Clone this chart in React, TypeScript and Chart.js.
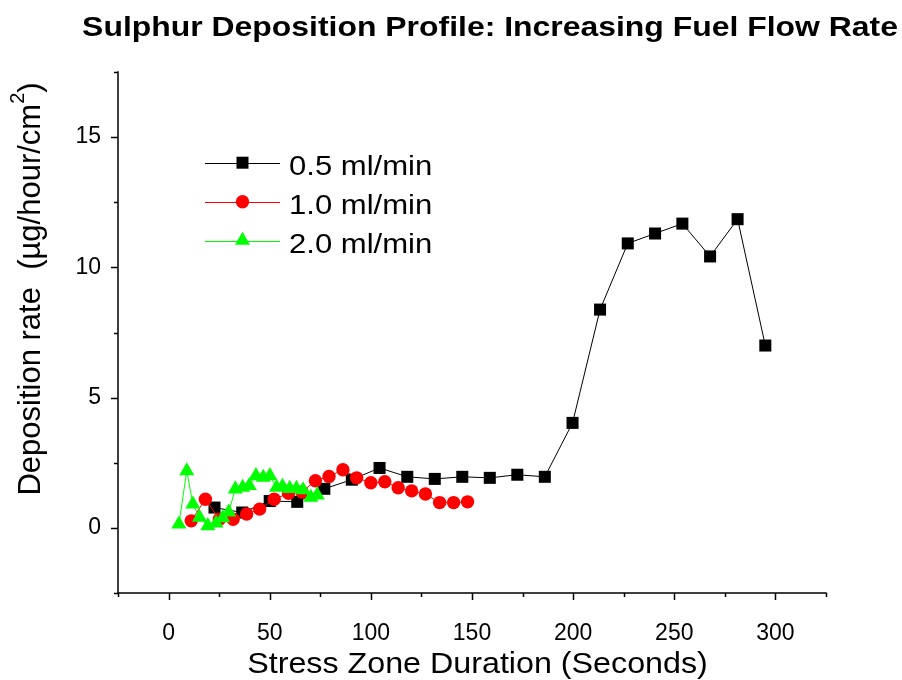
import React, { useEffect, useRef } from 'react';
import { Chart, registerables } from 'chart.js';

Chart.register(...registerables);

// ---- data ----
const seriesLabels = ['0.5 ml/min', '1.0 ml/min', '2.0 ml/min'];
const seriesColors = ['#000000', '#ff0000', '#00ff00'];

const blackX = [22.7, 36.4, 50, 63.6, 77, 90.6, 104.3, 118, 131.6, 145.2, 158.8, 172.4, 186, 199.7, 213.3, 227, 240.5, 254, 267.7, 281.3, 295];
const blackY = [0.78, 0.59, 1.03, 1.0, 1.5, 1.85, 2.3, 1.96, 1.88, 1.96, 1.92, 2.04, 1.96, 4.03, 8.38, 10.92, 11.3, 11.68, 10.42, 11.85, 7.0];

const redX = [11.2, 18.2, 25.1, 31.9, 38.6, 45.0, 52.2, 59.3, 66.0, 72.6, 79.3, 86.2, 93.0, 100.0, 106.9, 113.5, 120.2, 127.0, 134.0, 140.9, 147.8];
const redY = [0.27, 1.1, 0.33, 0.33, 0.53, 0.72, 1.1, 1.33, 1.38, 1.81, 1.97, 2.23, 1.92, 1.73, 1.77, 1.54, 1.42, 1.3, 0.97, 0.97, 1.0];

const greenX = [5.1, 9.0, 12.0, 15.3, 19.4, 23.5, 26.8, 29.7, 33.0, 36.6, 39.9, 43.2, 46.8, 50.1, 53.4, 56.3, 59.9, 63.2, 66.5, 70.3, 73.5];
const greenY = [0.14, 2.19, 0.91, 0.4, 0.08, 0.18, 0.38, 0.6, 1.49, 1.55, 1.62, 2.0, 1.94, 2.0, 1.55, 1.59, 1.51, 1.51, 1.46, 1.17, 1.26];

const xMin = -25;
const xMax = 325;
const xStep = 25;
const xLabelStep = 50;
const yMin = -2.5;
const yMax = 17.5;
const yStep = 2.5;
const yLabelStep = 5;

const titleText = 'Sulphur Deposition Profile: Increasing Fuel Flow Rate';
const xAxisTitle = 'Stress Zone Duration (Seconds)';
const yAxisTitleMain = 'Deposition rate  (\u00b5g/hour/cm';
const yAxisTitleSup = '2';
const yAxisTitleEnd = ')';

const FONT = "'Liberation Sans', Arial, Helvetica, sans-serif";

function drawMarker(ctx: CanvasRenderingContext2D, style: string, x: number, y: number, color: string) {
  ctx.save();
  ctx.fillStyle = color;
  ctx.beginPath();
  if (style === 'rect') {
    const s = 6;
    ctx.rect(x - s, y - s, 2 * s, 2 * s);
  } else if (style === 'circle') {
    ctx.arc(x, y, 6.7, 0, Math.PI * 2);
  } else {
    const r = 8.7;
    ctx.moveTo(x, y - r);
    ctx.lineTo(x + r * Math.sin((2 * Math.PI) / 3), y - r * Math.cos((2 * Math.PI) / 3));
    ctx.lineTo(x + r * Math.sin((4 * Math.PI) / 3), y - r * Math.cos((4 * Math.PI) / 3));
    ctx.closePath();
  }
  ctx.fill();
  ctx.restore();
}

function drawScaledText(ctx: CanvasRenderingContext2D, text: string, x: number, y: number, font: string, sx: number, align: CanvasTextAlign) {
  ctx.save();
  ctx.font = font;
  ctx.fillStyle = '#000';
  ctx.textAlign = align;
  ctx.textBaseline = 'alphabetic';
  ctx.translate(x, y);
  ctx.scale(sx, 1);
  ctx.fillText(text, 0, 0);
  ctx.restore();
}

const decorPlugin = {
  id: 'decor',
  afterDraw(chart: any) {
    const ctx: CanvasRenderingContext2D = chart.ctx;
    const xs = chart.scales.x;
    const ys = chart.scales.y;
    const ca = chart.chartArea;
    ctx.save();
    ctx.strokeStyle = '#000';
    ctx.lineWidth = 1.5;
    ctx.lineCap = 'square';
    ctx.beginPath();
    ctx.moveTo(ca.left, ca.top);
    ctx.lineTo(ca.left, ca.bottom);
    ctx.lineTo(ca.right, ca.bottom);
    ctx.stroke();
    ctx.lineCap = 'butt';
    for (let v = xMin; v <= xMax + 1e-9; v += xStep) {
      const px = Math.round(xs.getPixelForValue(v)) + 0.5;
      const len = Math.abs(v % xLabelStep) < 1e-9 ? 7 : 4;
      ctx.beginPath();
      ctx.moveTo(px, ca.bottom);
      ctx.lineTo(px, ca.bottom + len);
      ctx.stroke();
    }
    for (let v = yMin; v <= yMax + 1e-9; v += yStep) {
      const py = Math.round(ys.getPixelForValue(v)) + 0.5;
      const len = Math.abs(v % yLabelStep) < 1e-9 ? 7 : 4;
      ctx.beginPath();
      ctx.moveTo(ca.left, py);
      ctx.lineTo(ca.left - len, py);
      ctx.stroke();
    }
    ctx.restore();

    // title
    drawScaledText(ctx, titleText, 490, 36, `bold 28px ${FONT}`, 1.14, 'center');
    // x axis title
    drawScaledText(ctx, xAxisTitle, 477.5, 673, `30px ${FONT}`, 1.075, 'center');

    // y axis title (rotated, with superscript)
    ctx.save();
    ctx.translate(40, 289);
    ctx.rotate(-Math.PI / 2);
    ctx.fillStyle = '#000';
    ctx.textBaseline = 'alphabetic';
    ctx.textAlign = 'left';
    const mainFont = `31px ${FONT}`;
    const supFont = `20px ${FONT}`;
    ctx.font = mainFont;
    const wMain = ctx.measureText(yAxisTitleMain).width;
    const wEnd = ctx.measureText(yAxisTitleEnd).width;
    ctx.font = supFont;
    const wSup = ctx.measureText(yAxisTitleSup).width;
    const total = wMain + wSup + wEnd;
    let cx = -total / 2;
    ctx.font = mainFont;
    ctx.fillText(yAxisTitleMain, cx, 0);
    cx += wMain;
    ctx.font = supFont;
    ctx.fillText(yAxisTitleSup, cx, -16);
    cx += wSup;
    ctx.font = mainFont;
    ctx.fillText(yAxisTitleEnd, cx, 0);
    ctx.restore();

    // legend
    const styles = ['rect', 'circle', 'triangle'];
    const rowY = [162.7, 201.7, 240.5];
    for (let i = 0; i < seriesLabels.length; i++) {
      ctx.save();
      ctx.strokeStyle = seriesColors[i];
      ctx.lineWidth = 1;
      ctx.beginPath();
      ctx.moveTo(205, Math.round(rowY[i]) + 0.5);
      ctx.lineTo(280, Math.round(rowY[i]) + 0.5);
      ctx.stroke();
      ctx.restore();
      drawMarker(ctx, styles[i], 242.5, rowY[i], seriesColors[i]);
      drawScaledText(ctx, seriesLabels[i], 289, rowY[i] + 12.5, `27px ${FONT}`, 1.15, 'left');
    }
  },
};

export default function App() {
  const ref = useRef<HTMLCanvasElement>(null);
  useEffect(() => {
    const canvas = ref.current;
    if (!canvas) return;
    const mk = (xArr: number[], yArr: number[]) => xArr.map((x, i) => ({ x, y: yArr[i] }));
    const chart = new Chart(canvas, {
      type: 'scatter',
      data: {
        datasets: [
          {
            label: seriesLabels[0],
            data: mk(blackX, blackY),
            showLine: true,
            borderColor: seriesColors[0],
            backgroundColor: seriesColors[0],
            borderWidth: 1,
            pointStyle: 'rect',
            pointRadius: 8.5,
            pointBorderWidth: 0,
            order: 3,
          },
          {
            label: seriesLabels[1],
            data: mk(redX, redY),
            showLine: true,
            borderColor: seriesColors[1],
            backgroundColor: seriesColors[1],
            borderWidth: 1,
            pointStyle: 'circle',
            pointRadius: 6.7,
            pointBorderWidth: 0,
            order: 2,
          },
          {
            label: seriesLabels[2],
            data: mk(greenX, greenY),
            showLine: true,
            borderColor: seriesColors[2],
            backgroundColor: seriesColors[2],
            borderWidth: 1,
            pointStyle: 'triangle',
            pointRadius: 8.7,
            pointBorderWidth: 0,
            order: 1,
          },
        ] as any,
      },
      options: {
        responsive: false,
        animation: false,
        events: [],
        devicePixelRatio: 1,
        layout: { padding: { top: 72, right: 76, left: 0, bottom: 0 } },
        plugins: {
          legend: { display: false },
          title: { display: false },
          tooltip: { enabled: false },
        },
        scales: {
          x: {
            type: 'linear',
            position: 'bottom',
            min: xMin,
            max: xMax,
            afterFit: (s: any) => {
              s.height = 87;
            },
            grid: { display: true, drawOnChartArea: false, drawTicks: true, tickLength: 7, color: 'rgba(0,0,0,0)' },
            border: { display: false },
            ticks: {
              stepSize: xStep,
              autoSkip: false,
              maxRotation: 0,
              padding: 20,
              color: '#000',
              font: { family: FONT, size: 23 },
              callback: (v: any) => (Math.abs(Number(v) % xLabelStep) < 1e-9 ? String(v) : ''),
            },
          },
          y: {
            type: 'linear',
            position: 'left',
            min: yMin,
            max: yMax,
            afterFit: (s: any) => {
              s.width = 118;
            },
            grid: { display: true, drawOnChartArea: false, drawTicks: true, tickLength: 7, color: 'rgba(0,0,0,0)' },
            border: { display: false },
            ticks: {
              stepSize: yStep,
              autoSkip: false,
              padding: 10,
              color: '#000',
              font: { family: FONT, size: 23 },
              callback: (v: any) => (Math.abs(Number(v) % yLabelStep) < 1e-9 ? String(v) : ''),
            },
          },
        },
      } as any,
      plugins: [decorPlugin],
    });
    return () => chart.destroy();
  }, []);
  return (
    <div style={{ position: 'fixed', left: 0, top: 0, width: 902, height: 680, background: '#fff' }}>
      <canvas ref={ref} width={902} height={680} style={{ display: 'block', width: 902, height: 680 }} />
    </div>
  );
}
